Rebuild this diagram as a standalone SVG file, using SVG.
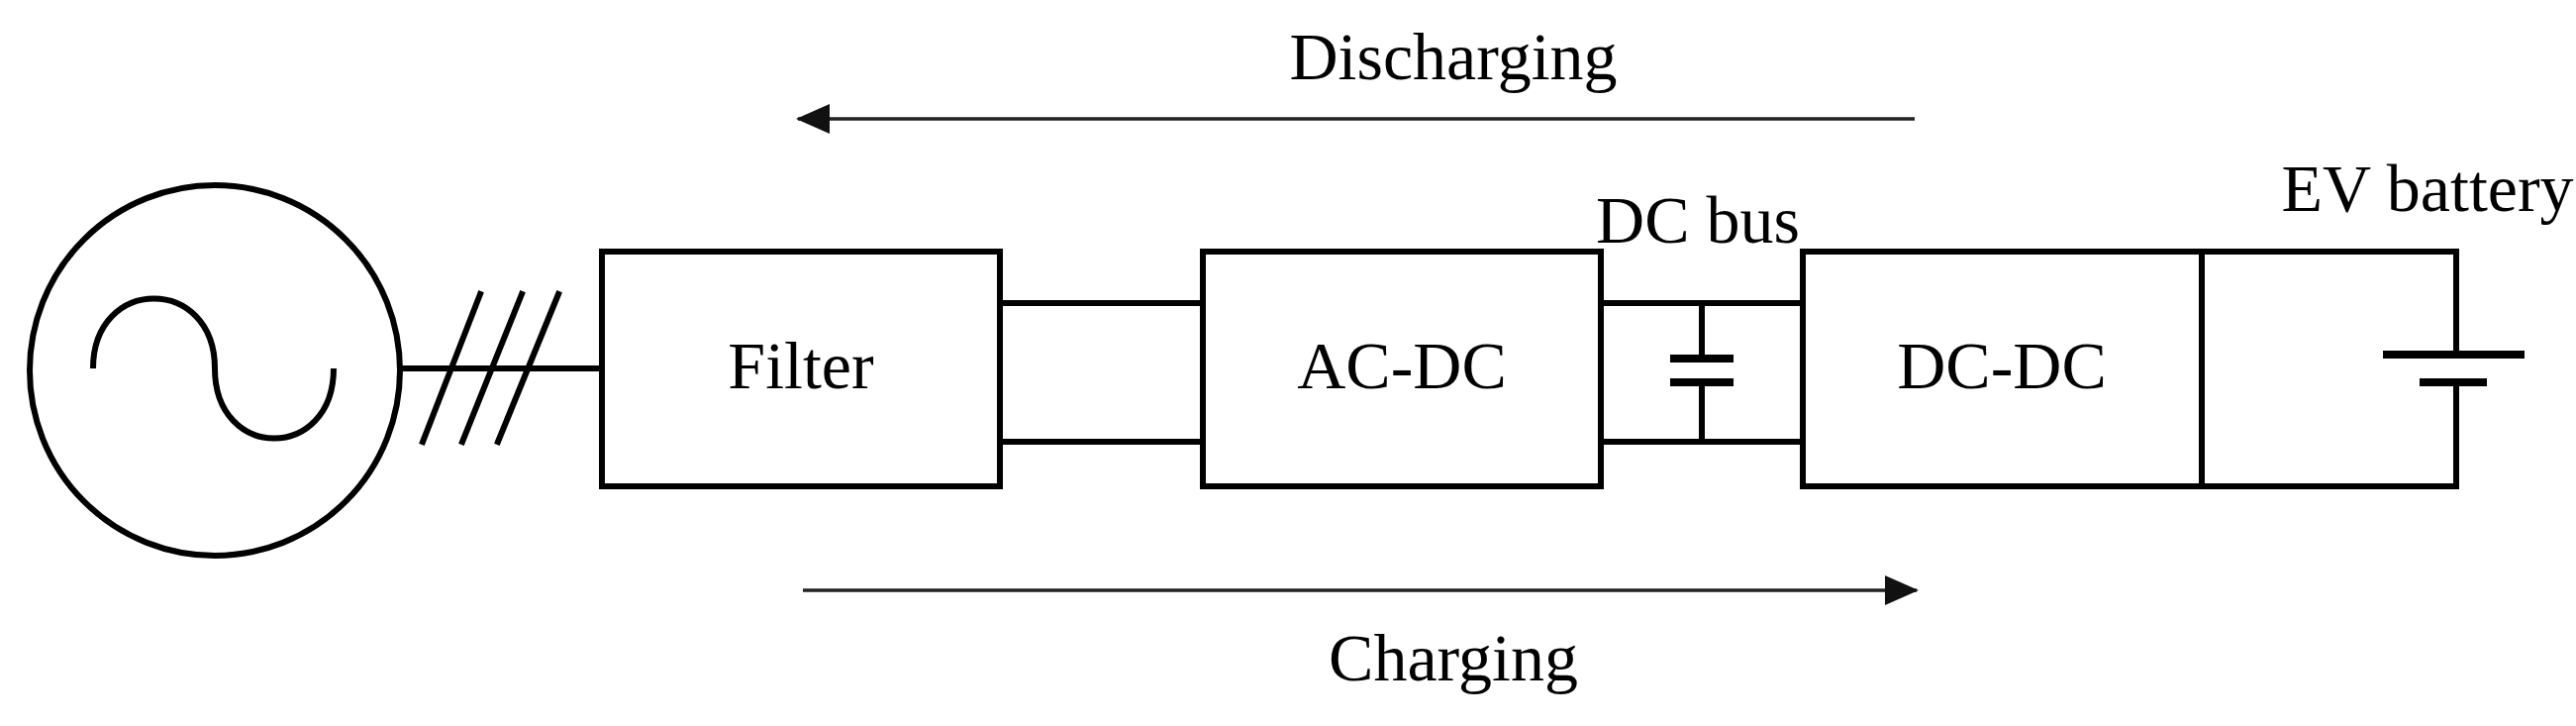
<svg xmlns="http://www.w3.org/2000/svg" width="2602" height="733" viewBox="0 0 2602 733">
<style>
.b{fill:none;stroke:#000;stroke-width:6;stroke-linecap:square}
.a{stroke:#222;stroke-width:3.5}
text{font-family:"Liberation Serif",serif;font-size:68px;fill:#000}
</style>
<defs><marker id="m" markerWidth="34" markerHeight="30" refX="32" refY="15" orient="auto" markerUnits="userSpaceOnUse" viewBox="0 0 34 30"><path d="M0,0L34,15L0,30z" fill="#111"/></marker></defs>
<rect width="2602" height="733" fill="#fff"/>
<g id="source">
<circle cx="217" cy="374" r="187" class="b"/>
<path class="b" d="M94,372C94,278 217,278 217,372C217,466 337,466 337,372" style="stroke-linecap:butt"/>
</g>
<g id="filter"><rect x="608" y="254" width="402" height="237" class="b"/><text x="809" y="392" text-anchor="middle">Filter</text></g>
<g id="acdc"><rect x="1215" y="254" width="402" height="237" class="b"/><text x="1416" y="392" text-anchor="middle">AC-DC</text></g>
<g id="dcdc"><rect x="1821" y="254" width="403" height="237" class="b"/><text x="2022" y="392" text-anchor="middle">DC-DC</text></g>
<g id="battery">
<path class="b" d="M2224,254H2481V358M2481,386V491H2224"/>
<path class="b" d="M2407,358H2550M2444,386H2512" style="stroke-width:8;stroke-linecap:butt"/>
<text x="2452" y="213" text-anchor="middle">EV battery</text>
</g>
<g id="dcbus">
<path class="b" d="M1719,306V362M1719,386V446"/>
<path class="b" d="M1687,362H1751M1687,386H1751" style="stroke-width:8;stroke-linecap:butt"/>
<text x="1715" y="245" text-anchor="middle">DC bus</text>
</g>
<g id="connectors">
<path class="b" d="M405,372H608M427,446L485,297M467,446L527,297M503,446L564,297M1010,306H1215M1010,446H1215M1617,306H1821M1617,446H1821"/>
<line x1="1934" y1="120" x2="806" y2="120" class="a" marker-end="url(#m)"/>
<line x1="811" y1="596" x2="1936" y2="596" class="a" marker-end="url(#m)"/>
<text x="1468" y="80" text-anchor="middle">Discharging</text>
<text x="1468" y="687" text-anchor="middle">Charging</text>
</g>
</svg>
